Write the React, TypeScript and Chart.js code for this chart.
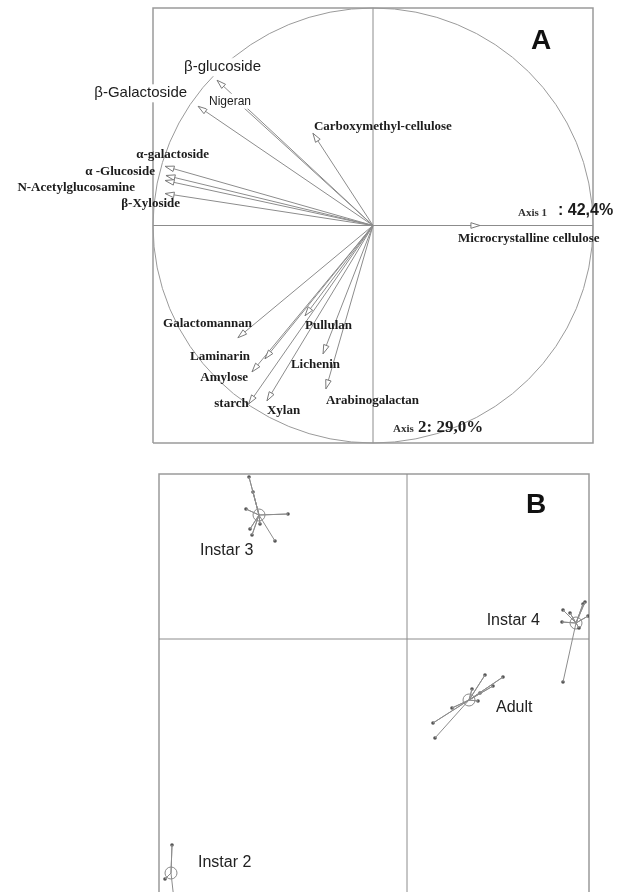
import React, { useEffect, useRef } from "react";
import { Chart, registerables } from "chart.js";
Chart.register(...registerables);

// ---------- Panel A : correlation circle ----------
const variables = [
  "β-glucoside", "Nigeran", "β-Galactoside", "Carboxymethyl-cellulose",
  "α-galactoside", "α -Glucoside", "N-Acetylglucosamine", "β-Xyloside",
  "Microcrystalline cellulose", "Galactomannan", "Pullulan", "Laminarin",
  "Lichenin", "Amylose", "starch", "Xylan", "Arabinogalactan",
];
const axis1Loadings = [
  -0.709, -0.65, -0.795, -0.273, -0.945, -0.941, -0.945, -0.945,
  0.486, -0.614, -0.309, -0.491, -0.227, -0.55, -0.565, -0.482, -0.214,
];
const axis2Loadings = [
  0.668, 0.599, 0.548, 0.424, 0.272, 0.23, 0.207, 0.147,
  0.0, -0.516, -0.415, -0.613, -0.59, -0.673, -0.82, -0.806, -0.751,
];
const axis1Label = "Axis 1";
const axis1Pct = ": 42,4%";
const axis2Label = "Axis";
const axis2Pct = "2: 29,0%";

// label placement relative to arrow tip (layout only)
const labelLayout: { dx: number; dy: number; align: CanvasTextAlign; style: string }[] = [
  { dx: -33, dy: -13, align: "left", style: "sans" },
  { dx: -21, dy: 6, align: "left", style: "sansSmall" },
  { dx: -11, dy: -13, align: "right", style: "sans" },
  { dx: 1, dy: -7, align: "left", style: "serif" },
  { dx: 44, dy: -12, align: "right", style: "serif" },
  { dx: -11, dy: -4, align: "right", style: "serif" },
  { dx: -30, dy: 7, align: "right", style: "serif" },
  { dx: 15, dy: 10, align: "right", style: "serif" },
  { dx: -22, dy: 13, align: "left", style: "serif" },
  { dx: 14, dy: -14, align: "right", style: "serif" },
  { dx: 0, dy: 10, align: "left", style: "serif" },
  { dx: -15, dy: -2, align: "right", style: "serif" },
  { dx: 17, dy: 11, align: "right", style: "serif" },
  { dx: -4, dy: 6, align: "right", style: "serif" },
  { dx: 0, dy: 0, align: "right", style: "serif" },
  { dx: 0, dy: 10, align: "left", style: "serif" },
  { dx: 0, dy: 12, align: "left", style: "serif" },
];

// ---------- Panel B : factorial map of individuals ----------
const groups = ["Instar 3", "Instar 4", "Adult", "Instar 2"];
const centroidX = [-1.48, 1.69, 0.62, -2.36];
const centroidY = [1.24, 0.16, -0.61, -2.34];
const instar3X = [-1.58, -1.54, -1.61, -1.19, -1.57, -1.55, -1.47, -1.32];
const instar3Y = [1.62, 1.47, 1.3, 1.25, 1.1, 1.04, 1.15, 0.98];
const instar4X = [1.56, 1.55, 1.63, 1.78, 1.76, 1.81, 1.72, 1.56];
const instar4Y = [0.29, 0.17, 0.26, 0.37, 0.35, 0.23, 0.11, -0.43];
const adultX = [0.78, 0.96, 0.86, 0.73, 0.71, 0.65, 0.45, 0.26, 0.28];
const adultY = [-0.36, -0.38, -0.47, -0.54, -0.62, -0.5, -0.69, -0.84, -0.99];
const instar2X = [-2.35, -2.42, -2.33];
const instar2Y = [-2.06, -2.4, -2.61];
const groupLabelLayout: { dx: number; dy: number; align: CanvasTextAlign }[] = [
  { dx: -59, dy: 36, align: "left" },
  { dx: -36, dy: -2, align: "right" },
  { dx: 27, dy: 8, align: "left" },
  { dx: 27, dy: -10, align: "left" },
];

const LINE = "#8c8c8c";
const FRAME = "#9a9a9a";
const INK = "#1c1c1c";

const fonts: Record<string, string> = {
  serif: "bold 13px 'Liberation Serif'",
  sans: "15px 'Liberation Sans'",
  sansSmall: "12px 'Liberation Sans'",
};

function drawFrame(chart: any, drawBottom: boolean) {
  const { ctx, chartArea: a, scales } = chart;
  const x0 = scales.x.getPixelForValue(0);
  const y0 = scales.y.getPixelForValue(0);
  ctx.save();
  ctx.strokeStyle = FRAME;
  ctx.lineWidth = 1.5;
  ctx.beginPath();
  ctx.moveTo(a.left, a.bottom);
  ctx.lineTo(a.left, a.top);
  ctx.lineTo(a.right, a.top);
  ctx.lineTo(a.right, a.bottom);
  if (drawBottom) ctx.lineTo(a.left, a.bottom);
  ctx.stroke();
  ctx.strokeStyle = LINE;
  ctx.lineWidth = 1;
  ctx.beginPath();
  ctx.moveTo(x0, a.top);
  ctx.lineTo(x0, a.bottom);
  ctx.moveTo(a.left, y0);
  ctx.lineTo(a.right, y0);
  ctx.stroke();
  ctx.restore();
}

const panelAPlugin = {
  id: "panelA",
  beforeDatasetsDraw(chart: any) {
    drawFrame(chart, true);
    const { ctx, scales } = chart;
    const cx = scales.x.getPixelForValue(0);
    const cy = scales.y.getPixelForValue(0);
    const rx = scales.x.getPixelForValue(1) - cx;
    const ry = cy - scales.y.getPixelForValue(1);
    ctx.save();
    ctx.strokeStyle = FRAME;
    ctx.lineWidth = 1;
    ctx.beginPath();
    ctx.ellipse(cx, cy, rx, ry, 0, 0, Math.PI * 2);
    ctx.stroke();
    ctx.restore();
  },
  afterDatasetsDraw(chart: any) {
    const { ctx } = chart;
    ctx.save();
    // arrow heads
    chart.data.datasets.forEach((_: any, i: number) => {
      const meta = chart.getDatasetMeta(i);
      const p0 = meta.data[0];
      const p1 = meta.data[1];
      const dx = p1.x - p0.x;
      const dy = p1.y - p0.y;
      const len = Math.hypot(dx, dy) || 1;
      const ux = dx / len, uy = dy / len;
      const nx = -uy, ny = ux;
      const L = 9, W = 2.8;
      ctx.strokeStyle = "#7a7a7a";
      ctx.fillStyle = "#fff";
      ctx.lineWidth = 1;
      ctx.beginPath();
      ctx.moveTo(p1.x, p1.y);
      ctx.lineTo(p1.x - ux * L + nx * W, p1.y - uy * L + ny * W);
      ctx.lineTo(p1.x - ux * L - nx * W, p1.y - uy * L - ny * W);
      ctx.closePath();
      ctx.fill();
      ctx.stroke();
    });
    // labels
    ctx.textBaseline = "middle";
    variables.forEach((name, i) => {
      const meta = chart.getDatasetMeta(i);
      const tip = meta.data[1];
      const lay = labelLayout[i];
      const x = tip.x + lay.dx;
      const y = tip.y + lay.dy;
      ctx.font = fonts[lay.style];
      ctx.textAlign = lay.align;
      if (lay.style !== "serif") {
        const w = ctx.measureText(name).width;
        const left = lay.align === "right" ? x - w : x;
        const h = lay.style === "sans" ? 18 : 15;
        ctx.fillStyle = "#fff";
        ctx.fillRect(left - 3, y - h / 2, w + 6, h);
      }
      ctx.fillStyle = INK;
      ctx.fillText(name, x, y);
    });
    // axis titles
    const a = chart.chartArea;
    ctx.textAlign = "left";
    ctx.fillStyle = "#333";
    ctx.font = "bold 11px 'Liberation Serif'";
    ctx.fillText(axis1Label, a.right - 75, 213);
    ctx.fillStyle = INK;
    ctx.font = "bold 16px 'Liberation Sans'";
    ctx.fillText(axis1Pct, a.right - 35, 211);
    ctx.fillStyle = "#333";
    ctx.font = "bold 11px 'Liberation Serif'";
    ctx.fillText(axis2Label, 393, 429);
    ctx.fillStyle = INK;
    ctx.font = "bold 17px 'Liberation Serif'";
    ctx.fillText(axis2Pct, 418, 428);
    // panel letter
    ctx.font = "900 28px 'Liberation Sans'";
    ctx.textAlign = "center";
    ctx.fillStyle = "#111";
    ctx.fillText("A", 541, 41);
    ctx.restore();
  },
};

const panelBPlugin = {
  id: "panelB",
  beforeDatasetsDraw(chart: any) {
    drawFrame(chart, false);
  },
  afterDraw(chart: any) {
    const { ctx, scales } = chart;
    ctx.save();
    ctx.textBaseline = "middle";
    ctx.font = "16px 'Liberation Sans'";
    ctx.fillStyle = "#222";
    groups.forEach((g, i) => {
      const x = scales.x.getPixelForValue(centroidX[i]) + groupLabelLayout[i].dx;
      const y = scales.y.getPixelForValue(centroidY[i]) + groupLabelLayout[i].dy;
      ctx.textAlign = groupLabelLayout[i].align;
      ctx.fillText(g, x, y);
    });
    ctx.font = "900 28px 'Liberation Sans'";
    ctx.textAlign = "center";
    ctx.fillStyle = "#111";
    ctx.fillText("B", 536, 45);
    ctx.restore();
  },
};

const memberX = [instar3X, instar4X, adultX, instar2X];
const memberY = [instar3Y, instar4Y, adultY, instar2Y];

export default function App() {
  const refA = useRef<HTMLCanvasElement>(null);
  const refB = useRef<HTMLCanvasElement>(null);

  useEffect(() => {
    const arrowSets = variables.map((name, i) => ({
      label: name,
      data: [
        { x: 0, y: 0 },
        { x: axis1Loadings[i], y: axis2Loadings[i] },
      ],
      showLine: true,
      borderColor: LINE,
      borderWidth: 1,
      pointRadius: 0,
      clip: false as any,
    }));
    const chartA = new Chart(refA.current!, {
      type: "scatter",
      data: { datasets: arrowSets as any },
      options: {
        responsive: false,
        animation: false,
        layout: { padding: { left: 153, right: 33, top: 8, bottom: 17 } },
        plugins: { legend: { display: false }, tooltip: { enabled: false } },
        scales: {
          x: { type: "linear", min: -1, max: 1, display: false },
          y: { type: "linear", min: -1, max: 1, display: false },
        },
      },
      plugins: [panelAPlugin],
    });

    const starSets = groups.map((g, i) => ({
      label: g + " links",
      data: memberX[i].flatMap((mx, k) => [
        { x: centroidX[i], y: centroidY[i] },
        { x: mx, y: memberY[i][k] },
      ]),
      showLine: true,
      borderColor: LINE,
      borderWidth: 1,
      pointRadius: 0,
    }));
    const memberSet = {
      label: "individuals",
      data: groups.flatMap((_, i) => memberX[i].map((mx, k) => ({ x: mx, y: memberY[i][k] }))),
      pointRadius: 1.8,
      pointBackgroundColor: "#555",
      pointBorderWidth: 0,
      showLine: false,
    };
    const centroidSet = {
      label: "groups",
      data: groups.map((_, i) => ({ x: centroidX[i], y: centroidY[i] })),
      pointRadius: 6,
      pointBackgroundColor: "#fff",
      pointBorderColor: "#888",
      pointBorderWidth: 1,
      showLine: false,
    };
    const chartB = new Chart(refB.current!, {
      type: "scatter",
      data: { datasets: [...starSets, memberSet, centroidSet] as any },
      options: {
        responsive: false,
        animation: false,
        layout: { padding: { left: 159, right: 37, top: 14, bottom: 15 } },
        plugins: { legend: { display: false }, tooltip: { enabled: false } },
        scales: {
          x: { type: "linear", min: -2.48, max: 1.82, display: false },
          y: { type: "linear", min: -2.66, max: 1.65, display: false },
        },
      },
      plugins: [panelBPlugin],
    });
    return () => {
      chartA.destroy();
      chartB.destroy();
    };
  }, []);

  return (
    <div
      style={{
        position: "absolute",
        left: 0,
        top: 0,
        width: 626,
        height: 892,
        overflow: "hidden",
        background: "#fff",
      }}
    >
      <canvas ref={refA} width={626} height={460} style={{ position: "absolute", left: 0, top: 0 }} />
      <canvas ref={refB} width={626} height={460} style={{ position: "absolute", left: 0, top: 460 }} />
    </div>
  );
}
